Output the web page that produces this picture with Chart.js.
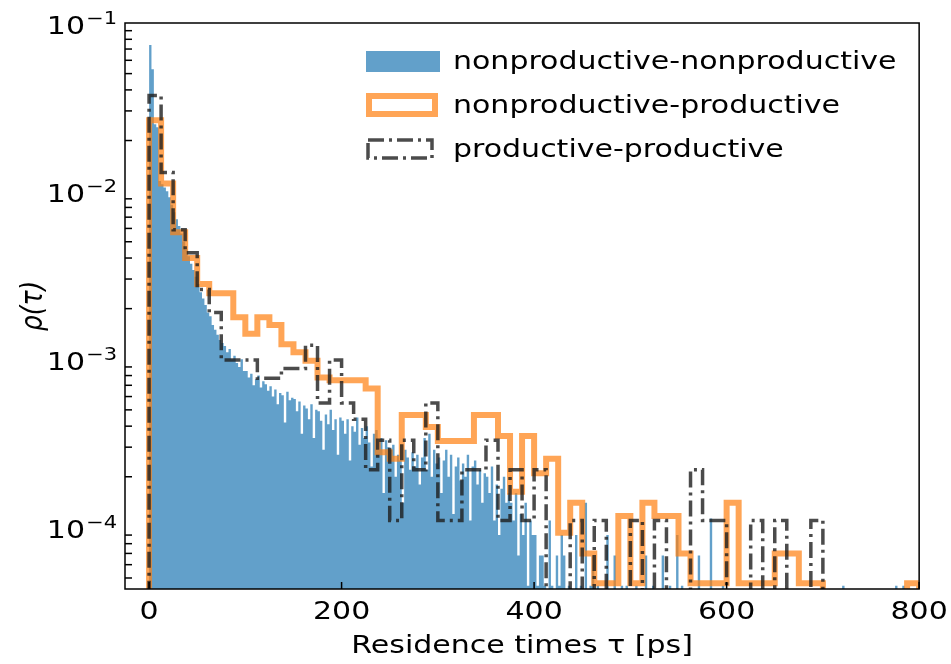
<!DOCTYPE html>
<html>
<head>
<meta charset="utf-8">
<script src="https://cdn.jsdelivr.net/npm/chart.js@4.4.0/dist/chart.umd.min.js"></script>
<style>
  html, body { margin: 0; padding: 0; background: #fff; }
</style>
</head>
<body>
<canvas id="myChart" width="951" height="664"></canvas>
<script>
const blueFill = 'rgba(31, 119, 180, 0.7)'
const orangeLine = 'rgba(255, 127, 14, 0.7)'
const grayLine = 'rgba(30, 30, 30, 0.8)'
const fontFamily = "'DejaVu Sans', sans-serif"
const fontSize = 25
// the source figure is stretched sideways, text included
const textStretch = 1.2

// legend names
const seriesNames = ['nonproductive-nonproductive', 'nonproductive-productive', 'productive-productive']

// axis ticks
const xTicks = [0, 200, 400, 600, 800]
const yTicks = [1e-4, 1e-3, 1e-2, 1e-1]
const yTickBase = '10'
const yTickPowers = ['\u22124', '\u22123', '\u22122', '\u22121']

// nonproductive-nonproductive, fine bins of 2.5 ps starting at 0
const npnpStart = 0
const npnpWidth = 2.5
const npnpDensity = [
  7.4e-2, 5.3e-2, 2.5e-2, 2.4e-2, 1.15e-2, 1.1e-2, 1.05e-2, 1.0e-2, 9.2e-3, 8.3e-3,
  7.5e-3, 6.8e-3, 6.2e-3, 5.6e-3, 5.0e-3, 4.5e-3, 4.1e-3, 3.7e-3, 3.4e-3, 3.1e-3,
  2.8e-3, 2.5e-3, 2.3e-3, 2.1e-3, 1.9e-3, 1.8e-3, 1.6e-3, 1.5e-3, 1.4e-3, 1.3e-3,
  1.25e-3, 1.2e-3, 1.1e-3, 1.15e-3, 1.0e-3, 1.05e-3, 9.5e-4, 9.0e-4, 1.0e-3, 8.5e-4,
  8.5e-4, 7.8e-4, 8.2e-4, 7.0e-4, 7.6e-4, 8.0e-4, 6.8e-4, 7.4e-4, 7.1e-4, 6.5e-4,
  6.9e-4, 6.0e-4, 6.6e-4, 5.4e-4, 6.3e-4, 6.1e-4, 4.2e-4, 6.4e-4, 5.7e-4, 5.9e-4,
  5.8e-4, 4.9e-4, 5.6e-4, 3.6e-4, 5.3e-4, 5.1e-4, 4.4e-4, 5.4e-4, 3.4e-4, 5.0e-4,
  4.9e-4, 4.3e-4, 2.9e-4, 4.7e-4, 4.1e-4, 5.0e-4, 3.8e-4, 4.4e-4, 2.7e-4, 4.5e-4,
  4.3e-4, 3.6e-4, 4.4e-4, 2.5e-4, 4.0e-4, 3.7e-4, 4.5e-4, 3.1e-4, 3.9e-4, 3.4e-4,
  4.0e-4, 3.2e-4, 2.3e-4, 3.6e-4, 3.8e-4, 2.9e-4, 3.4e-4, 1.6e-4, 3.3e-4, 3.0e-4,
  2.9e-4, 3.1e-4, 2.0e-4, 2.7e-4, 2.5e-4, 1.4e-4, 2.9e-4, 2.6e-4, 2.2e-4, 2.8e-4,
  2.3e-4, 2.7e-4, 1.8e-4, 2.6e-4, 3.4e-4, 2.2e-4, 3.6e-4, 2.0e-4, 2.9e-4, 2.4e-4,
  2.6e-4, 1.6e-4, 2.5e-4, 2.9e-4, 2.0e-4, 2.7e-4, 1.2e-4, 2.3e-4, 2.6e-4, 1.9e-4,
  2.4e-4, 2.0e-4, 2.7e-4, 1.1e-4, 2.3e-4, 2.5e-4, 1.8e-4, 2.2e-4, 1.4e-4, 2.1e-4,
  2.0e-4, 1.6e-4, 2.3e-4, 1.1e-4, 1.8e-4, 9.0e-5, 1.7e-4, 2.0e-4, 1.4e-4, 1.6e-4,
  1.4e-4, 1.1e-4, 1.6e-4, 6.8e-5, 1.2e-4, 9.0e-5, 1.4e-4, 4.5e-5, 1.1e-4, 9.0e-5,
  9.0e-5, 4.5e-5, 6.8e-5, 6.8e-5, 4.5e-5, 0, 1.1e-4, 4.5e-5, 0, 6.8e-5,
  4.5e-5, 9.0e-5, 6.8e-5, 0, 4.5e-5, 0, 0, 9.0e-5, 0, 4.5e-5,
  0, 1.4e-4, 0, 4.5e-5, 6.8e-5, 0, 4.5e-5, 0, 0, 0,
  9.0e-5, 0, 0, 6.8e-5, 0, 0, 4.5e-5, 0, 4.5e-5, 0,
  0, 0, 4.5e-5, 0, 0, 0, 6.8e-5, 0, 0, 4.5e-5,
  0, 0, 0, 6.8e-5, 0, 0, 4.5e-5, 0, 0, 9.0e-5,
  0, 4.5e-5, 0, 0, 0, 0, 0, 0, 6.8e-5, 0,
  0, 0, 0, 1.13e-4, 0, 0, 0, 0, 4.5e-5, 0,
  0, 0, 0, 0, 0, 0, 0, 0, 0, 0,
  0, 0, 0, 0, 0, 0, 0, 0, 0, 0,
  0, 0, 0, 0, 0, 0, 0, 0, 0, 0,
  0, 0, 0, 0, 0, 0, 0, 0, 0, 0,
  0, 0, 0, 0, 0, 0, 0, 0, 4.5e-5, 0,
  0, 0, 0, 0, 0, 0, 0, 0, 0, 0,
  0, 0, 0, 0, 0, 0, 0, 0, 0, 0,
  4.5e-5, 0, 0, 4.5e-5, 0, 0, 0, 0, 0, 0
]

// nonproductive-productive and productive-productive, bins of 12.5 ps starting at 0
const coarseStart = 0
const coarseWidth = 12.5
const npDensity = [
  2.64e-2, 1.11e-2, 5.7e-3, 4.0e-3, 2.8e-3, 2.47e-3, 2.47e-3, 1.78e-3,
  1.42e-3, 1.78e-3, 1.6e-3, 1.23e-3, 1.1e-3, 9.8e-4, 7.8e-4, 7.5e-4,
  7.5e-4, 7.5e-4, 6.7e-4, 2.8e-4, 2.56e-4, 4.66e-4, 4.66e-4, 3.96e-4,
  3.26e-4, 3.26e-4, 3.26e-4, 4.66e-4, 4.66e-4, 3.5e-4, 1.63e-4, 3.5e-4,
  2.1e-4, 2.56e-4, 9.3e-5, 1.4e-4, 7.0e-5, 4.66e-5, 4.66e-5, 1.17e-4,
  4.66e-5, 1.4e-4, 1.17e-4, 1.17e-4, 7.0e-5, 4.66e-5, 4.66e-5, 4.66e-5,
  1.4e-4, 4.66e-5, 4.66e-5, 4.66e-5, 7.0e-5, 7.0e-5, 4.66e-5, 4.66e-5,
  0, 0, 0, 0, 0, 0, 0, 4.66e-5
]
const ppDensity = [
  3.7e-2, 1.29e-2, 5.9e-3, 4.3e-3, 2.6e-3, 1.9e-3, 9.9e-4, 9.9e-4,
  9.9e-4, 7.7e-4, 7.7e-4, 8.8e-4, 8.8e-4, 1.21e-3, 5.5e-4, 9.9e-4,
  5.5e-4, 4.4e-4, 2.2e-4, 3.3e-4, 1.1e-4, 3.3e-4, 2.2e-4, 5.5e-4,
  1.1e-4, 1.1e-4, 2.2e-4, 2.2e-4, 3.3e-4, 1.1e-4, 2.2e-4, 1.1e-4,
  2.2e-4, 0, 0, 1.1e-4, 0, 1.1e-4, 0, 0,
  1.1e-4, 0, 1.1e-4, 0, 0, 2.2e-4, 1.1e-4, 1.1e-4,
  0, 0, 1.1e-4, 0, 1.1e-4, 0, 0, 1.1e-4
]

// zero-count bins are sent below the visible log axis
const belowAxis = 1e-7

function stepPoints(start, width, values) {
  const pts = [{ x: start, y: belowAxis }]
  values.forEach(function (v, i) {
    pts.push({ x: start + i * width, y: v > 0 ? v : belowAxis })
  })
  pts.push({ x: start + values.length * width, y: belowAxis })
  return pts
}

const canvas = document.getElementById('myChart')
const c2d = canvas.getContext('2d')
const plainFillText = c2d.fillText.bind(c2d)
// widen every text run around its anchor point
c2d.fillText = function (text, x, y) {
  const m = this.getTransform()
  this.save()
  this.translate(x, y)
  if (Math.abs(m.a) < 1e-6) {
    this.scale(1, textStretch)
  } else {
    this.scale(textStretch, 1)
  }
  plainFillText(text, 0, 0)
  this.restore()
}

// inward ticks, frame, log labels and legend
const framePlugin = {
  id: 'frame',
  afterDraw(chart) {
    const ctx = chart.ctx
    const area = chart.chartArea
    const xs = chart.scales.x
    const ys = chart.scales.y
    ctx.save()
    ctx.strokeStyle = '#000'
    ctx.lineWidth = 1.5
    ctx.strokeRect(area.left, area.top, area.right - area.left, area.bottom - area.top)

    xTicks.forEach(function (t) {
      const px = xs.getPixelForValue(t)
      ctx.beginPath()
      ctx.moveTo(px, area.bottom)
      ctx.lineTo(px, area.bottom - 7)
      ctx.stroke()
    })
    for (let e = -5; e <= -1; e++) {
      for (let m = 2; m <= 9; m++) {
        const v = m * Math.pow(10, e)
        if (v <= ys.min || v >= ys.max) continue
        const py = ys.getPixelForValue(v)
        ctx.beginPath()
        ctx.moveTo(area.left, py)
        ctx.lineTo(area.left + 7, py)
        ctx.stroke()
      }
    }

    // y labels written like 10 with a raised power
    ctx.fillStyle = '#000'
    ctx.textAlign = 'left'
    ctx.textBaseline = 'alphabetic'
    const baseFont = fontSize + 'px ' + fontFamily
    const powFont = (fontSize * 0.7) + 'px ' + fontFamily
    yTicks.forEach(function (v, i) {
      const py = ys.getPixelForValue(v)
      ctx.font = powFont
      const powW = ctx.measureText(yTickPowers[i]).width * textStretch
      ctx.font = baseFont
      const baseW = ctx.measureText(yTickBase).width * textStretch
      const powX = area.left - 8 - powW
      ctx.fillText(yTickBase, powX - baseW - 1, py + 11)
      ctx.font = powFont
      ctx.fillText(yTickPowers[i], powX, py + 1)
    })

    // legend
    const lx = 366, lw = 70, lh = 20
    const rows = [61, 105, 149]
    ctx.fillStyle = blueFill
    ctx.fillRect(lx, rows[0] - lh / 2, lw + 4, lh + 1)

    ctx.strokeStyle = orangeLine
    ctx.lineWidth = 6
    ctx.strokeRect(lx + 3, rows[1] - lh / 2 + 1, lw - 4, lh - 2)

    ctx.strokeStyle = grayLine
    ctx.lineWidth = 3.5
    ctx.setLineDash([16, 5, 3, 5])
    ctx.strokeRect(lx + 2, rows[2] - lh / 2 + 1, lw - 6, lh - 2)
    ctx.setLineDash([])

    ctx.fillStyle = '#000'
    ctx.font = fontSize + 'px ' + fontFamily
    ctx.textBaseline = 'middle'
    ctx.textAlign = 'left'
    seriesNames.forEach(function (name, i) {
      ctx.fillText(name, 453, rows[i] + 1)
    })
    ctx.restore()
  }
}

new Chart(canvas, {
  type: 'line',
  data: {
    datasets: [
      {
        label: seriesNames[0],
        data: stepPoints(npnpStart, npnpWidth, npnpDensity),
        stepped: 'before',
        borderWidth: 0,
        borderColor: 'rgba(0,0,0,0)',
        backgroundColor: blueFill,
        fill: 'start',
        pointRadius: 0,
        clip: 0,
        order: 3
      },
      {
        label: seriesNames[1],
        data: stepPoints(coarseStart, coarseWidth, npDensity),
        stepped: 'before',
        borderWidth: 6,
        borderColor: orangeLine,
        fill: false,
        pointRadius: 0,
        clip: 0,
        order: 2
      },
      {
        label: seriesNames[2],
        data: stepPoints(coarseStart, coarseWidth, ppDensity),
        stepped: 'before',
        borderWidth: 3.5,
        borderColor: grayLine,
        borderDash: [16, 5, 3, 5],
        fill: false,
        pointRadius: 0,
        clip: 0,
        order: 1
      }
    ]
  },
  options: {
    responsive: false,
    animation: false,
    layout: { padding: { top: 23, right: 31, left: 0, bottom: 0 } },
    plugins: {
      legend: { display: false },
      tooltip: { enabled: false }
    },
    scales: {
      x: {
        type: 'linear',
        min: -25,
        max: 800,
        afterFit(scale) { scale.height = 75 },
        afterBuildTicks(scale) { scale.ticks = xTicks.map(v => ({ value: v })) },
        grid: { display: false, drawTicks: false },
        border: { display: false },
        ticks: {
          padding: 8,
          color: '#000',
          font: { family: fontFamily, size: fontSize },
          maxRotation: 0
        },
        title: {
          display: true,
          text: 'Residence times \u03C4 [ps]',
          color: '#000',
          font: { family: fontFamily, size: fontSize },
          padding: { top: 0, bottom: 3 }
        }
      },
      y: {
        type: 'logarithmic',
        min: 4.3e-5,
        max: 1e-1,
        afterFit(scale) { scale.width = 125 },
        afterBuildTicks(scale) { scale.ticks = yTicks.map(v => ({ value: v })) },
        grid: { display: false, drawTicks: false },
        border: { display: false },
        ticks: { display: false },
        title: {
          display: true,
          text: '\u03C1(\u03C4)',
          color: '#000',
          font: { family: fontFamily, size: fontSize, style: 'italic' },
          padding: { top: 19, bottom: 0 }
        }
      }
    }
  },
  plugins: [framePlugin]
})
</script>
</body>
</html>
